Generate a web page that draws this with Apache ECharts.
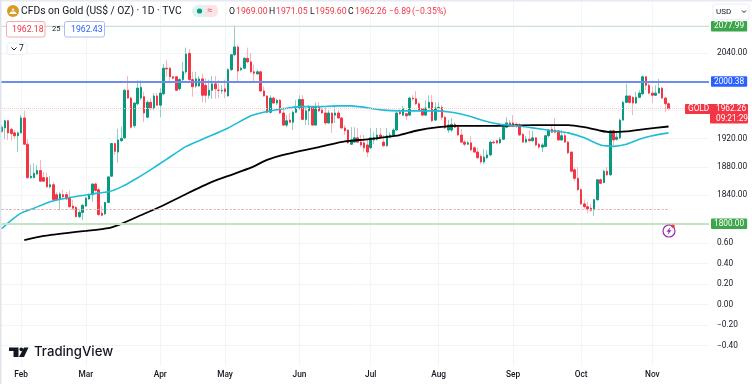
<!DOCTYPE html>
<html><head><meta charset="utf-8">
<style>html,body{margin:0;padding:0;background:#fff}#c{width:752px;height:384px}</style>
<script src="https://cdn.jsdelivr.net/npm/echarts@6/dist/echarts.min.js"></script>
</head><body><div id="c"></div>
<script>
const opens=[1930,1935,1945,1933,1928,1924,1928,1949,1912,1865,
1865,1870,1875,1865,1865,1852,1855,1841,1834,1841,
1841,1836,1825,1823,1810,1816,1825,1835,1841,1856,
1848,1815,1814,1830,1867,1913,1901,1917,1921,1988,
1977,1938,1969,1977,1979,1950,1971,1963,1980,1967,
1983,2019,2019,2007,2007,1990,2003,2014,2040,2003,
1994,1994,2004,1995,1981,1988,1997,1988,1987,1990,
1980,2017,2038,2049,2017,2019,2033,2028,2014,2011,
2014,1987,1980,1957,1977,1970,1974,1956,1939,1946,
1943,1957,1963,1975,1947,1959,1964,1939,1964,1960,
1956,1942,1956,1953,1956,1949,1935,1932,1912,1915,
1921,1915,1914,1911,1907,1918,1919,1925,1915,1910,
1922,1925,1932,1957,1953,1955,1953,1977,1976,1969,
1962,1953,1963,1971,1946,1963,1964,1950,1932,1932,
1940,1936,1925,1915,1912,1914,1907,1901,1895,1887,
1893,1897,1915,1917,1914,1919,1936,1942,1942,1940,
1938,1926,1915,1919,1917,1921,1912,1908,1909,1924,
1933,1932,1931,1918,1924,1915,1901,1876,1864,1848,
1828,1824,1822,1821,1834,1862,1858,1874,1869,1931,
1919,1921,1946,1971,1980,1978,1970,1978,1983,2007,
1995,1984,1981,1984,1991,1977,1969];
const closes=[1936,1945,1928,1927,1924,1928,1949,1912,1865,1867,
1871,1875,1860,1860,1852,1855,1834,1834,1842,1838,
1835,1824,1822,1810,1816,1826,1836,1841,1856,1847,
1813,1812,1830,1866,1913,1902,1918,1920,1988,1977,
1936,1970,1991,1992,1956,1971,1963,1980,1967,1984,
2019,2018,2007,2005,1988,2003,2014,2039,2003,1993,
2004,2004,1981,1981,1988,1997,1990,1988,1988,1986,
2017,2038,2049,2015,2019,2033,2028,2014,2012,2014,
1987,1980,1957,1977,1970,1974,1956,1939,1945,1943,
1957,1963,1975,1947,1959,1964,1939,1964,1959,1956,
1942,1956,1942,1956,1949,1935,1931,1914,1918,1921,
1915,1911,1907,1901,1921,1921,1925,1922,1910,1924,
1925,1932,1956,1955,1962,1952,1977,1976,1969,1960,
1953,1963,1971,1945,1963,1964,1950,1935,1939,1940,
1936,1925,1915,1912,1914,1904,1901,1893,1887,1894,
1897,1915,1914,1914,1919,1936,1942,1939,1938,1938,
1925,1915,1919,1917,1921,1911,1908,1911,1924,1932,
1929,1929,1918,1924,1915,1900,1874,1864,1848,1828,
1824,1821,1819,1834,1862,1857,1874,1869,1931,1918,
1922,1946,1971,1980,1971,1970,1978,1984,2007,1995,
1984,1981,1984,1991,1977,1969,1962.26];
const highs=[1939,1946,1946,1935,1932,1930,1953,1959,1919,1883,
1885,1883,1890,1873,1872,1867,1859,1845,1845,1848,
1845,1847,1834,1825,1819,1828,1838,1843,1857,1858,
1851,1825,1831,1867,1914,1914,1934,1937,1990,2008,
1979,1971,2002,2002,1986,1974,1977,1984,1984,1991,
2025,2031,2021,2008,2008,2005,2028,2048,2046,2014,
2014,2008,2011,2005,2003,2008,2008,2003,1995,2003,
2019,2039,2079,2052,2021,2035,2048,2040,2024,2017,
2015,1993,1981,1981,1979,1976,1976,1964,1953,1956,
1959,1974,1981,1981,1963,1967,1966,1971,1971,1964,
1964,1960,1957,1967,1960,1950,1939,1933,1936,1936,
1935,1925,1925,1918,1935,1929,1935,1935,1925,1935,
1929,1935,1957,1962,1966,1956,1979,1981,1987,1971,
1963,1974,1981,1981,1971,1971,1967,1952,1946,1949,
1943,1938,1933,1918,1917,1924,1909,1907,1898,1905,
1904,1917,1918,1918,1922,1938,1950,1946,1953,1943,
1942,1928,1924,1931,1931,1922,1914,1914,1925,1933,
1939,1949,1932,1932,1929,1917,1902,1880,1880,1850,
1834,1831,1828,1835,1863,1864,1876,1880,1932,1933,
1929,1948,1973,1997,1980,1980,1986,1988,2009,2008,
1998,1993,1995,2004,1993,1979,1971.05];
const lows=[1928,1919,1918,1917,1919,1901,1927,1911,1863,1863,
1864,1869,1859,1859,1851,1850,1831,1832,1819,1836,
1834,1823,1819,1809,1808,1805,1824,1834,1831,1845,
1811,1811,1812,1829,1866,1897,1886,1915,1919,1976,
1934,1935,1967,1974,1943,1949,1960,1960,1966,1950,
1981,2007,2000,2003,1987,1987,2000,2011,2001,1979,
1991,1993,1971,1970,1976,1976,1976,1977,1983,1977,
1979,2015,2036,2000,2015,2018,2026,2012,2000,2010,
1986,1979,1956,1955,1969,1967,1955,1938,1936,1942,
1932,1956,1960,1946,1939,1939,1938,1938,1957,1955,
1939,1941,1928,1942,1948,1933,1925,1912,1911,1914,
1914,1908,1901,1894,1905,1912,1917,1921,1908,1908,
1921,1924,1931,1953,1952,1946,1952,1973,1967,1959,
1952,1952,1962,1943,1945,1957,1946,1933,1928,1929,
1935,1924,1914,1909,1911,1902,1900,1891,1884,1884,
1891,1895,1912,1912,1912,1918,1935,1938,1936,1935,
1924,1914,1914,1915,1915,1909,1905,1901,1908,1922,
1928,1928,1917,1917,1914,1898,1873,1860,1846,1826,
1821,1815,1817,1811,1832,1856,1857,1867,1867,1908,
1917,1919,1945,1970,1969,1953,1969,1977,1981,1988,
1982,1970,1980,1983,1976,1957,1959.6];

const blueIdx=[0,3,6,10,15,21,28,33,37,41,46,51,57,62,70,77,82,87,92,98,104,108,118,123,133,139,144,149,154,159,164,170,175,180,185,189,193,197,201,206];
const blueVal=[1793,1805,1815,1822,1831,1837,1842,1845,1852,1862,1876,1891,1909,1919,1935,1952,1958,1962,1965,1965,1966,1966,1960,1959,1959,1957,1952,1945,1940,1938,1935,1931,1928,1921,1911,1909,1912,1919,1924,1928];
const blackIdx=[7,13,20,26,33,37,43,49,57,65,71,77,82,87,98,106,113,123,128,135,141,154,164,175,180,185,188,193,198,206];
const blackVal=[1777,1783,1787,1790,1794,1800,1812,1824,1842,1859,1869,1879,1890,1897,1908,1916,1919,1925,1931,1936,1938,1938,1939,1939,1936,1931,1929,1930,1933,1937];

const monthIdx=[6,26,49,69,92,114,135,158,179,201];
const monthNames=['Feb','Mar','Apr','May','Jun','Jul','Aug','Sep','Oct','Nov'];
const slotCount=219;
const hiddenPriceTicks=[2080,2000,1960,1800];
const lineGreenTop=2077.99, lineBlue=2000.38, lineGreenLow=1800, lineLast=1962.26, lineDotted=1820;

const F='Roboto, sans-serif';
const categories=Array.from({length:slotCount},(_,i)=>{const m=monthIdx.indexOf(i);return m>=0?monthNames[m]:String(i);});
const isMonth=i=>monthIdx.indexOf(i)>=0;
const gridCol='#f3f4f7';
const wicks=opens.map((o,i)=>[o,closes[i],lows[i],highs[i]]);
const bodies=opens.map((o,i)=>[o,closes[i],Math.min(o,closes[i]),Math.max(o,closes[i])]);
const lastIdx=opens.length-1;

function txt(x,y,t,size,fill,extra){return {type:'text',z:20,silent:true,style:Object.assign({x,y,text:t,fontSize:size,fill,fontFamily:F,verticalAlign:'middle',align:'left'},extra||{})};}
function box(x,y,w,h,fill,stroke,r){return {type:'rect',z:19,silent:true,shape:{x,y,width:w,height:h,r:r||0},style:{fill:fill,stroke:stroke||null,lineWidth:1}};}
const red='#f23645',blk='#131722';
const graphics=[
 box(0,0,752,1.5,'#e6e8f2'), box(0,0,1.5,384,'#e0e3eb'),
 // header
 {type:'circle',z:19,silent:true,shape:{cx:13,cy:11,r:6},style:{fill:'#d99a25'}},
 {type:'polygon',z:20,silent:true,shape:{points:[[9,14],[11,11.5],[15,11.5],[17,14]]},style:{fill:'#fff'}},
 {type:'polygon',z:20,silent:true,shape:{points:[[11.5,10.5],[12.5,8.5],[13.5,8.5],[14.5,10.5]]},style:{fill:'#fff'}},
 txt(21,11.5,'CFDs on Gold (US$ / OZ) · 1D · TVC',10.3,blk),
 box(192,5,26,12,'#dff2ee',null,6), box(205,5,13,12,'#fce3e6',null,5),
 {type:'circle',z:20,silent:true,shape:{cx:199.5,cy:11,r:2.6},style:{fill:'#089981'}},
 txt(207.5,11,'≈',9,'#e0557f'),
 txt(229,11.5,'O',8.7,blk),txt(236,11.5,'1969.00',8.7,red),
 txt(269,11.5,'H',8.7,blk),txt(276,11.5,'1971.05',8.7,red),
 txt(310,11.5,'L',8.7,blk),txt(315,11.5,'1959.60',8.7,red),
 txt(348,11.5,'C',8.7,blk),txt(355,11.5,'1962.26',8.7,red),
 txt(389,11.5,'−6.89',8.7,red),txt(412,11.5,'(−0.35%)',8.7,red),
 box(6.5,21.5,38.5,15.5,'#fff','#f7a9b0',2),txt(12,29.5,'1962.18',8.7,red),
 txt(52,29.5,'25',7.5,blk),
 box(64.5,21.5,40,15.5,'#fff','#a5bcf8',2),txt(71,29.5,'1962.43',8.7,'#2962ff'),
 box(7,43,20,11.5,'#fff','#eceef2',2),
 {type:'polyline',z:20,silent:true,shape:{points:[[11.5,47.5],[14,50],[16.5,47.5]]},style:{stroke:blk,lineWidth:1,fill:null}},
 txt(19,49,'7',8.5,blk),
 // currency
 box(713,4,36,15.5,'#fff','#eceef2',2),txt(716,12,'USD',8,blk),
 {type:'polyline',z:20,silent:true,shape:{points:[[742,10.5],[744,12.5],[746,10.5]]},style:{stroke:blk,lineWidth:1,fill:null}},
 // last-price tag
 box(685,104,63,10,red,null,1), box(710,113.5,38,10,red,null,1),
 txt(688,109.3,'GOLD',8.3,'#fff'),txt(716,109.3,'1962.26',8.3,'#fff'),txt(716,118.8,'09:21:29',8.3,'#fff'),
 // alert icon
 {type:'circle',z:20,silent:true,shape:{cx:669,cy:231,r:6},style:{fill:'#fff',stroke:'#9c27b0',lineWidth:1.2}},
 {type:'polygon',z:21,silent:true,shape:{points:[[670.5,227],[666.5,231.7],[668.7,231.7],[667.5,235],[671.5,230.3],[669.3,230.3]]},style:{fill:'#9c27b0'}},
 {type:'circle',z:22,silent:true,shape:{cx:673,cy:226.3,r:1.7},style:{fill:red}},
 // logo
 {type:'polygon',z:20,silent:true,shape:{points:[[9,347.5],[18.5,347.5],[18.5,357],[13.5,357],[13.5,351],[9,351]]},style:{fill:blk}},
 {type:'circle',z:20,silent:true,shape:{cx:21.3,cy:349.3,r:1.9},style:{fill:blk}},
 {type:'polygon',z:20,silent:true,shape:{points:[[24,347.5],[28.5,347.5],[24,357],[19,357]]},style:{fill:blk}},
 txt(34,352.5,'TradingView',13.2,blk,{fontFamily:'Inter, Roboto, sans-serif',fontWeight:500})
];

const chart=echarts.init(document.getElementById('c'),null,{renderer:'canvas'});
function priceTag(v,color,fg){return {yAxis:v,lineStyle:{color:fg.line,width:fg.w,type:'solid',opacity:1},label:{show:true,position:'end',distance:2,formatter:v.toFixed(2),color:'#fff',backgroundColor:color,padding:[1.5,3,1,3],fontSize:8.3,fontFamily:F,borderRadius:1}};}
chart.setOption({
 animation:false,
 backgroundColor:'#fff',
 grid:[{left:0,width:709,top:2,height:250.2},{left:0,width:709,top:243,height:123}],
 xAxis:[0,1].map(g=>({
  type:'category',gridIndex:g,data:categories,boundaryGap:true,position:'bottom',
  axisLine:{show:false},axisTick:{show:false},
  splitLine:{show:true,interval:(i)=>isMonth(i),alignWithLabel:true,lineStyle:{color:gridCol,width:1}},
  axisLabel:g===1?{show:true,interval:(i)=>isMonth(i),color:blk,fontSize:8.3,fontFamily:F,margin:5,fontWeight:500}:{show:false}
 })),
 yAxis:[
  {type:'value',gridIndex:0,position:'right',min:1760,max:2112.28,interval:40,
   axisLine:{show:false},axisTick:{show:false},
   splitLine:{show:true,showMinLine:false,showMaxLine:false,lineStyle:{color:gridCol,width:1}},
   axisLabel:{showMinLabel:false,showMaxLabel:false,margin:8,color:blk,fontSize:8.3,fontFamily:F,
    formatter:v=>hiddenPriceTicks.indexOf(v)>=0?'':v.toFixed(2)}},
  {type:'value',gridIndex:1,position:'right',min:-0.6,max:0.6,interval:0.2,
   axisLine:{show:false},axisTick:{show:false},
   splitLine:{show:true,showMinLine:false,lineStyle:{color:gridCol,width:1}},
   axisLabel:{showMinLabel:false,margin:8,color:blk,fontSize:8.3,fontFamily:F,
    formatter:v=>(v.toFixed(2)).replace('-','−')}}
 ],
 series:[
  {type:'candlestick',name:'wicks',xAxisIndex:0,yAxisIndex:0,barWidth:1,data:wicks,z:2,silent:true,
   itemStyle:{color:'#8fd0c5',color0:'#f9b4ba',borderColor:'#8fd0c5',borderColor0:'#f9b4ba',borderWidth:1}},
  {type:'candlestick',name:'bodies',xAxisIndex:0,yAxisIndex:0,barWidth:2,data:bodies,z:3,silent:true,
   itemStyle:{color:'#089981',color0:red,borderColor:'#089981',borderColor0:red,borderWidth:1}},
  {type:'line',name:'black',xAxisIndex:0,yAxisIndex:0,data:blackIdx.map((k,i)=>[k,blackVal[i]]),showSymbol:false,smooth:0.15,z:5,silent:true,
   lineStyle:{color:'#000',width:1.8}},
  {type:'line',name:'blue',xAxisIndex:0,yAxisIndex:0,data:blueIdx.map((k,i)=>[k,blueVal[i]]),showSymbol:false,smooth:0.15,z:6,silent:true,
   lineStyle:{color:'#1fbcd6',width:1.6},
   markLine:{silent:true,symbol:'none',animation:false,precision:2,z:7,data:[
    priceTag(lineGreenTop,'#3da64a',{line:'#cbe5cc',w:1}),
    priceTag(lineBlue,'#2962ff',{line:'#6b8cf3',w:2}),
    priceTag(lineGreenLow,'#3da64a',{line:'#c1e4c2',w:2}),
    {yAxis:lineLast,label:{show:false},lineStyle:{color:'#f9c7cb',width:1,type:[1,1]}},
    [{coord:[0,lineDotted],label:{show:false},lineStyle:{color:'#f5a3aa',width:1,type:[2,2]}},{coord:[lastIdx,lineDotted]}],
    [{coord:[0,lineDotted],label:{show:false},lineStyle:{color:'#7fcabd',width:1,type:[1,7]}},{coord:[lastIdx,lineDotted]}]
   ]}}
 ],
 graphic:graphics
});
</script></body></html>
